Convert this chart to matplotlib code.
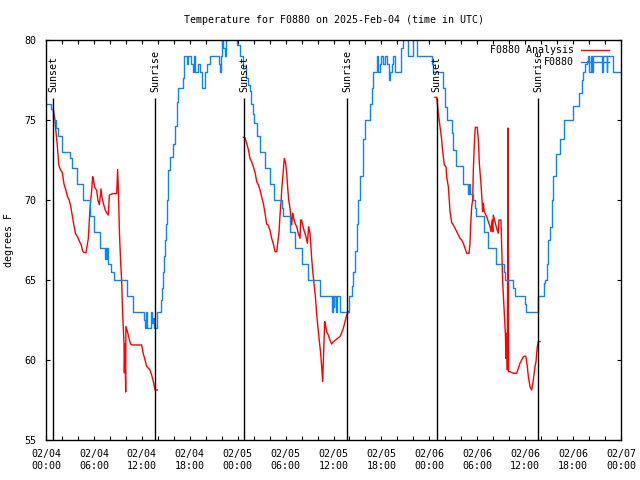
import numpy as np
import pandas as pd
import matplotlib
matplotlib.use("Agg")
import matplotlib.pyplot as plt
import matplotlib.dates as mdates

# hours since 2025-02-04 00:00 UTC
START = pd.Timestamp("2025-02-04 00:00")

# station observations (step values)
obs_hours = [0.0, 0.58, 0.92, 1.2, 1.54, 2.05, 3.0, 3.2, 3.84, 4.6, 5.5, 6.0, 6.76,
             7.39, 7.5, 7.6, 7.7, 7.8, 8.2, 8.51, 10.18, 10.85, 12.27, 12.4, 12.5,
             12.6, 13.2, 13.3, 13.45, 13.55, 13.85, 14.36, 14.5, 14.6, 14.78, 14.9,
             15.03, 15.1, 15.19, 15.3, 15.5, 15.9, 16.15, 16.36, 16.57, 17.1, 17.3,
             17.6, 17.8, 18.2, 18.4, 18.5, 18.7, 19.0, 19.3, 19.5, 19.9, 20.1, 20.5,
             21.6, 21.75, 21.9, 22.0, 22.2, 22.4, 22.6, 22.8, 23.9, 24.3, 24.7, 25.1,
             25.3, 25.5, 25.7, 25.9, 26.1, 26.4, 26.8, 27.4, 28.05, 28.5, 29.5, 29.7,
             30.55, 31.2, 32.0, 32.85, 34.3, 35.8, 35.9, 36.0, 36.1, 36.3, 36.4, 36.8,
             37.9, 38.3, 38.5, 38.7, 38.9, 39.1, 39.3, 39.7, 39.95, 40.55, 40.8, 41.0,
             41.4, 41.6, 41.8, 42.0, 42.2, 42.4, 42.7, 42.9, 43.1, 43.3, 43.5, 43.7,
             44.5, 44.7, 45.3, 46.0, 46.4, 48.3, 48.5, 49.75, 49.96, 50.2, 50.8, 51.0,
             51.4, 52.25, 52.9, 53.0, 53.1, 53.5, 53.7, 53.9, 54.8, 55.4, 56.35, 57.3,
             57.5, 58.5, 58.7, 60.0, 60.1, 61.65, 62.3, 62.5, 62.7, 62.9, 63.1, 63.3,
             63.5, 63.9, 64.4, 64.8, 66.0, 66.7, 67.1, 67.3, 67.5, 67.7, 67.9, 68.0,
             68.2, 68.4, 68.5, 69.6, 69.7, 70.2, 70.3, 71.05, 72.0]
obs_temps = [76, 75.7, 75, 74.5, 74, 73, 72.6, 72, 71, 70, 69, 68, 67,
             66.3, 67, 66.3, 67, 66, 65.5, 65, 64, 63, 62.5, 62, 63,
             62, 63, 62.3, 62.6, 62, 63, 63.75, 64.5, 65.5, 66.5, 67.5,
             68.5, 69, 70, 71.9, 72.7, 73.5, 74.6, 76.1, 77, 77.6, 79,
             78.5, 79, 78.5, 78, 79, 78, 78.5, 78, 77, 78, 78.5, 79,
             78.5, 78, 79, 80, 79.5, 79, 80, 80.5, 79.7, 79, 78.4, 77.6,
             77.2, 76.8, 76, 75.4, 74.8, 74, 73, 72, 71, 70, 69.5, 69,
             68, 67, 66, 65, 64, 63, 64, 63.3, 64, 63, 64, 63,
             64, 64.6, 65.5, 66.8, 68.5, 70, 71.5, 73.8, 75, 76, 77, 78,
             79, 78, 78.5, 79, 78.5, 79, 78.5, 77.5, 78, 78.5, 79, 78,
             79.5, 80.5, 79, 80.5, 79, 78.5, 78, 77, 75.8, 75, 74.2, 73.1,
             72.1, 71, 70.4, 71, 70.4, 70, 69.5, 69, 68, 67, 66, 65.5,
             65, 64.5, 64, 63.5, 63, 64, 64.8, 65, 66, 67.5, 68.3, 70,
             71.5, 72.9, 73.8, 75, 75.9, 76.7, 77.5, 78, 78.5, 78.7, 79, 78,
             79, 78, 79, 78, 79, 78, 79, 78, 78]

# analysis values, night only (nan separates the nights)
nan = float("nan")
ana_hours = [0.92, 1.1, 1.2, 1.4, 1.6, 1.8, 2.05, 2.25, 2.5, 2.7, 2.9, 3.1, 3.3, 3.5,
             3.7, 3.95, 4.2, 4.4, 4.6, 4.8, 5.0, 5.1, 5.3, 5.4, 5.5, 5.6, 5.72, 5.84,
             5.95, 6.1, 6.34, 6.5, 6.68, 6.89, 7.0, 7.18, 7.4, 7.6, 7.8, 7.93, 8.1,
             8.43, 8.85, 8.97, 9.06, 9.12, 9.2, 9.35, 9.47, 9.6, 9.77, 9.81, 9.88,
             9.98, 10.0, 10.18, 10.4, 10.6, 10.77, 11.98, 12.18, 12.4, 12.6, 12.81,
             13.0, 13.23, 13.44, 13.65, 13.94, 19.0,
             24.71, 24.9, 25.13, 25.35, 25.54, 25.75, 25.96, 26.2, 26.38, 26.6, 26.8,
             27.0, 27.21, 27.42, 27.63, 27.8, 28.05, 28.26, 28.45, 28.68, 28.89,
             29.01, 29.18, 29.3, 29.45, 29.51, 29.72, 29.84, 30.01, 30.14, 30.26,
             30.39, 30.55, 30.76, 30.89, 30.97, 31.18, 31.39, 31.6, 31.81, 31.89,
             32.0, 32.14, 32.31, 32.56, 32.73, 32.89, 33.06, 33.27, 33.39, 33.56,
             33.73, 33.89, 34.06, 34.23, 34.39, 34.52, 34.64, 34.81, 34.9, 35.0,
             35.14, 35.35, 35.56, 35.77, 36.0, 36.4, 36.81, 37.0, 37.23, 37.45,
             37.65, 37.86, 43.0,
             48.71, 48.92, 49.0, 49.13, 49.34, 49.55, 49.65, 49.75, 49.88, 50.09,
             50.17, 50.38, 50.59, 50.8, 51.0, 51.22, 51.43, 51.63, 51.84, 52.05,
             52.26, 52.47, 52.68, 52.97, 53.09, 53.18, 53.3, 53.43, 53.51, 53.64,
             53.76, 54.0, 54.14, 54.26, 54.43, 54.56, 54.68, 54.76, 54.85, 54.97,
             55.18, 55.39, 55.6, 55.72, 55.85, 55.95, 56.01, 56.22, 56.43, 56.64,
             56.72, 56.97, 57.06, 57.18, 57.35, 57.52, 57.6, 57.69, 57.77, 57.85,
             57.9, 57.93, 58.1, 58.52, 58.94, 59.15, 59.35, 59.57, 59.77, 59.98,
             60.1, 60.27, 60.4, 60.61, 60.82, 61.02, 61.23, 61.36, 61.44, 61.52,
             61.65, 61.86]
ana_temps = [75.6, 75.1, 74.5, 73.5, 72.2, 71.9, 71.7, 71.0, 70.6, 70.2, 70.0, 69.6, 69.0, 68.4,
             67.9, 67.7, 67.4, 67.2, 66.8, 66.7, 66.7, 67.0, 67.6, 68.5, 69.4, 70.0, 70.6, 71.46,
             71.25, 70.8, 70.6, 70.0, 69.7, 70.7, 70.2, 69.8, 69.4, 69.2, 69.06, 70.3, 70.35,
             70.4, 70.4, 71.9, 70.7, 69.5, 67.9, 66.1, 65.0, 62.9, 61.0, 59.2, 61.0,
             58.0, 62.1, 61.8, 61.35, 61.0, 60.94, 60.94, 60.4, 60.0, 59.6, 59.5,
             59.4, 59.06, 58.65, 58.13, 58.13, nan,
             73.92, 73.9, 73.54, 73.13, 72.6, 72.4, 72.08, 71.67, 71.15, 70.94, 70.63,
             70.2, 69.8, 69.2, 68.5, 68.44, 68.1, 67.6, 67.3, 66.77, 66.77,
             67.3, 68.0, 69.06, 70.0, 70.6, 71.9, 72.6, 72.3, 71.67, 70.8,
             70.0, 69.5, 68.44, 69.17, 68.96, 68.54, 68.33, 67.9, 67.6, 68.75,
             68.75, 68.44, 68.1, 67.7, 67.3, 68.33, 67.9, 66.35, 65.6, 64.8,
             63.96, 62.9, 61.98, 61.15, 60.42, 59.58, 58.65, 61.04, 62.4, 62.19,
             61.77, 61.56, 61.25, 61.0, 61.15, 61.3, 61.46, 61.67, 61.98, 62.4,
             62.8, 63.02, nan,
             76.42, 76.42, 76.04, 75.42, 74.58, 73.75, 73.13, 72.7, 72.19, 72.08,
             71.46, 70.83, 69.3, 68.6, 68.44, 68.23, 68.02, 67.81, 67.6, 67.5,
             67.29, 66.98, 66.67, 66.67, 67.29, 68.44, 69.58, 70.0, 71.88, 73.54,
             74.54, 74.54, 73.75, 72.29, 71.25, 70.3, 69.27, 69.79, 69.375, 69.17,
             68.96, 68.65, 68.33, 68.02, 68.75, 68.02, 69.06, 68.65, 68.23, 67.92,
             68.75, 68.75, 67.08, 64.9, 63.23, 61.67, 60.1, 61.67, 59.375, 74.5,
             66.9, 59.27, 59.27, 59.17, 59.17, 59.48, 59.8, 60.0, 60.2, 60.25,
             60.2, 59.58, 58.96, 58.33, 58.125, 58.75, 59.58, 59.9, 60.42, 60.83,
             61.15, 61.15]

# sunset / sunrise markers
event_hours = [0.92, 13.7, 24.8, 37.7, 48.9, 61.6]
event_names = ["Sunset", "Sunrise", "Sunset", "Sunrise", "Sunset", "Sunrise"]


def to_time(hours):
    return START + pd.to_timedelta(np.asarray(hours, dtype=float), unit="h")


plt.rcParams["font.family"] = ["DejaVu Sans Mono"]
plt.rcParams["font.size"] = 7.2

fig = plt.figure(figsize=(6.4, 4.8), dpi=100, facecolor="white")
ax = fig.add_axes([46 / 640, 40 / 480, 575 / 640, 400 / 480])

ax.plot(to_time(ana_hours), ana_temps, color="#ff0000", lw=1.0, label="F0880 Analysis")
ax.plot(to_time(obs_hours), obs_temps, color="#0a84ff", lw=1.0,
        drawstyle="steps-post", label="F0880")

for h, name in zip(event_hours, event_names):
    t = to_time([h])[0]
    ax.vlines(t, 55, 76.4, color="black", lw=1.0)
    ax.text(t, 76.75, name, rotation=90, ha="center", va="bottom", fontsize=7.2)

ax.set_xlim(START, START + pd.Timedelta(hours=72))
ax.set_ylim(55, 80)
ax.set_yticks([55, 60, 65, 70, 75, 80])

ax.xaxis.set_major_locator(mdates.HourLocator(byhour=[0, 6, 12, 18]))
ax.xaxis.set_minor_locator(mdates.HourLocator(byhour=range(0, 24, 2)))
ax.xaxis.set_major_formatter(mdates.DateFormatter("%m/%d\n%H:%M"))

ax.tick_params(which="both", direction="in", top=True, right=True,
               length=3.2, width=0.8, color="black")
ax.tick_params(axis="x", which="major", pad=6.5)
ax.tick_params(axis="y", pad=7)
for lab in ax.get_xticklabels():
    lab.set_linespacing(1.25)

for sp in ax.spines.values():
    sp.set_linewidth(1.0)

ax.set_title("Temperature for F0880 on 2025-Feb-04 (time in UTC)", pad=12, fontsize=7.2)
ax.set_ylabel("degrees F")
ax.yaxis.set_label_coords(-0.055, 0.5)

ax.legend(loc="upper right", bbox_to_anchor=(563 / 575, 1 - 5.5 / 400),
          frameon=False, markerfirst=False, handlelength=2.76, handletextpad=0.77,
          borderaxespad=0, borderpad=0, labelspacing=0.2, fontsize=7.2)

fig.savefig("out.png", dpi=100, facecolor="white")
